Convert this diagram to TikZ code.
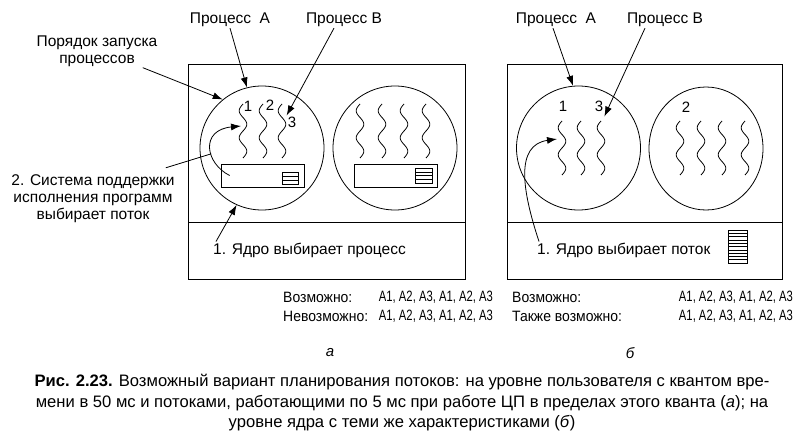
\documentclass[tikz,border=0pt]{standalone}
\usepackage{fontspec}
\setmainfont{Liberation Sans}
\newfontfamily\labelfont{Liberation Sans}[FakeStretch=0.93]
\newfontfamily\valfont{Liberation Sans}[FakeStretch=0.75]
\usetikzlibrary{shapes,arrows.meta,positioning,calc}
\tikzset{>={Latex[length=10pt,width=7pt]}, font=\fontsize{15.5}{17}\selectfont}
\tikzstyle{txt} = [inner sep=1pt, align=center]
\tikzstyle{proc} = [draw, circle, minimum size=124pt, inner sep=0pt, line width=0.8pt]
\tikzstyle{rtsbox} = [draw, rectangle, minimum width=83pt, minimum height=23pt, inner sep=0pt, line width=0.8pt]
\tikzstyle{stack} = [draw, rectangle, inner sep=0pt, outer sep=0pt, line width=0.6pt]
\tikzstyle{panel} = [draw, line width=0.8pt]
\tikzstyle{thread} = [line width=0.8pt]
\tikzstyle{pointer} = [->, line width=0.8pt]
\tikzstyle{num} = [inner sep=1pt, font=\fontsize{15}{15}\selectfont]
\tikzstyle{seqlabel} = [inner sep=0pt, font=\labelfont\fontsize{15}{16}\selectfont]
\tikzstyle{seq} = [inner sep=0pt, font=\valfont\fontsize{15}{16}\selectfont]
\newcommand{\wavy}[1]{\draw[thread, shift={(#1)}] plot[smooth, samples=41, domain=0:1, variable=\t] ({-3.8*sin(720*\t)}, {54*\t});}
\newcommand{\stripes}[2]{\foreach \k in {1,...,#2} \draw[line width=0.5pt] ($(#1.north west)!{\k/(#2+1)}!(#1.south west)$) -- ($(#1.north east)!{\k/(#2+1)}!(#1.south east)$);}

\begin{document}
\begin{tikzpicture}[x=1pt, y=-1pt]
    \useasboundingbox (0,0) rectangle (802,447);

    % (a) user-level threads
    \draw[panel] (188,64) rectangle (465,279);
    \draw[panel] (188,222) -- (465,222);
    \node[proc] (pa1) at (262,148) {};
    \node[proc] (pa2) at (395,148) {};
    \node[rtsbox] (rtsA) at (262.5,175.5) {};
    \node[rtsbox] (rtsB) at (396,175.5) {};
    \node[stack, minimum width=16pt, minimum height=12pt] (qa1) at (290,178) {};
    \node[stack, minimum width=17pt, minimum height=15pt] (qa2) at (423.5,175.5) {};
    \stripes{qa1}{2}
    \stripes{qa2}{3}
    \foreach \n/\x in {1/243, 2/263, 3/282} {\coordinate (ta\n) at (\x,104); \wavy{ta\n}}
    \foreach \n/\x in {1/360, 2/382, 3/404, 4/426} {\coordinate (tab\n) at (\x,104); \wavy{tab\n}}
    \node[num] (la1) at (248,106) {1};
    \node[num] (la2) at (270,105) {2};
    \node[num] (la3) at (292,122) {3};

    \node[txt] (procAa) at (230,20) {Процесс~~A};
    \node[txt] (procBa) at (344,20) {Процесс B};
    \node[txt] (order) at (97,51) {Порядок запуска\\процессов};
    \node[txt] (rts) at (93,199) {2. Система поддержки\\исполнения программ\\выбирает поток};
    \node[txt, anchor=west] (kernA) at (212,250) {1. Ядро выбирает процесс};
    \coordinate (pickA) at (241,126);

    \draw[pointer] (order.-20) -- (pa1.129);
    \draw[pointer] (procAa.south) -- (pa1.104);
    \draw[pointer] ([xshift=-10pt]procBa.south) -- (la3.north west);
    \draw[pointer] ([xshift=4pt]kernA.north west) -- (pa1.246);
    \draw[pointer] ([xshift=9pt]rtsA.west) .. controls (205,163) and (200,130) .. coordinate[pos=0.4] (rtsjoin) (pickA);
    \draw[line width=0.8pt] ([xshift=-10pt, yshift=6pt]rts.north east) -- (rtsjoin);

    % (b) kernel-level threads
    \draw[panel] (507,64) rectangle (782,279);
    \draw[panel] (507,222) -- (782,222);
    \node[proc] (pb1) at (578.5,148) {};
    \node[proc, ellipse, minimum width=114pt, minimum height=123pt] (pb2) at (706,148.5) {};
    \node[stack, minimum width=19pt, minimum height=33pt] (qb) at (737.5,246.5) {};
    \stripes{qb}{9}
    \foreach \n/\x in {1/562, 2/581, 3/601} {\coordinate (tb\n) at (\x,121); \wavy{tb\n}}
    \foreach \n/\x in {1/680, 2/701, 3/722, 4/745} {\coordinate (tbb\n) at (\x,121); \wavy{tbb\n}}
    \node[num] (lb1) at (563,106) {1};
    \node[num] (lb3) at (599,106) {3};
    \node[num] (lb2) at (686,107) {2};

    \node[txt] (procAb) at (556,20) {Процесс~~A};
    \node[txt] (procBb) at (665,20) {Процесс B};
    \node[txt, anchor=west] (kernB) at (536,250) {1. Ядро выбирает поток};
    \coordinate (pickB) at (557,139);

    \draw[pointer] ([xshift=-3pt]procAb.south) -- (pb1.95);
    \draw[pointer] ([xshift=-20pt]procBb.south) -- ([yshift=-4pt]lb3.south east);
    \draw[pointer] ([xshift=3pt]kernB.north west) .. controls (522,190) and (515,145) .. (pickB);

    % sequences
    \node[seqlabel, anchor=west] (posA) at (283,297) {Возможно:};
    \node[seq, anchor=east] (seqA1) at (493,297) {A1, A2, A3, A1, A2, A3};
    \node[seqlabel, anchor=west] (negA) at (283,316) {Невозможно:};
    \node[seq, anchor=east] (seqA2) at (493,316) {A1, A2, A3, A1, A2, A3};
    \node[seqlabel, anchor=west] (posB) at (512,297) {Возможно:};
    \node[seq, anchor=east] (seqB1) at (793,297) {A1, A2, A3, A1, A2, A3};
    \node[seqlabel, anchor=west] (alsoB) at (512,316) {Также возможно:};
    \node[seq, anchor=east] (seqB2) at (793,316) {A1, A2, A3, A1, A2, A3};
    \node[txt, font=\fontsize{15}{17}\selectfont\itshape] (suba) at (330,353) {а};
    \node[txt, font=\fontsize{15}{17}\selectfont\itshape] (subb) at (630,353) {б};

    \node[txt, font=\fontsize{16.6}{20.5}\selectfont] (capt) at (402,403) {\textbf{Рис. 2.23.} Возможный вариант планирования потоков: на уровне пользователя с квантом вре-\\мени в 50 мс и потоками, работающими по 5 мс при работе ЦП в пределах этого кванта (\textit{а}); на\\уровне ядра с теми же характеристиками (\textit{б})};
\end{tikzpicture}
\end{document}
